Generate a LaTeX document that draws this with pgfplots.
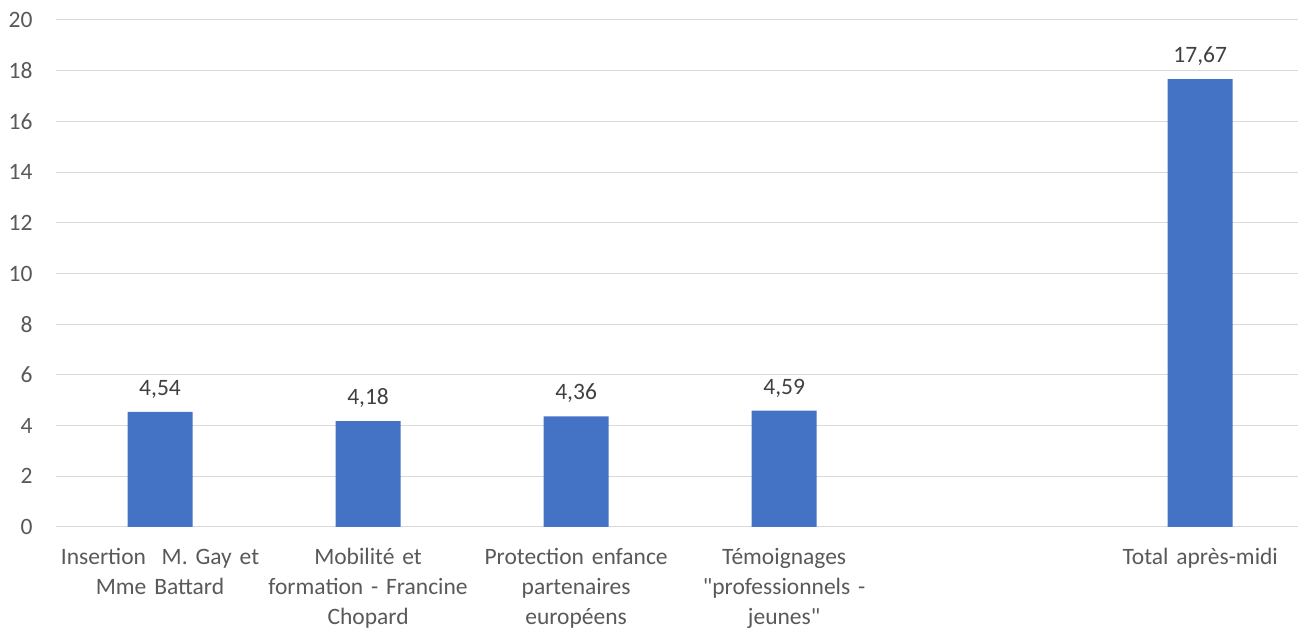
\documentclass[border=0pt]{standalone}
\usepackage{pgfplots}
\pgfplotsset{compat=1.18}
\usepackage{fontspec}
\setmainfont{Carlito}
\newcommand\dq{{\addfontfeatures{Ligatures=TeXOff}\symbol{34}}}
\definecolor{barblue}{HTML}{4472C4}
\definecolor{gridgray}{HTML}{D9D9D9}
\definecolor{txtgray}{HTML}{595959}
\definecolor{lblgray}{HTML}{404040}
\begin{document}
\begin{tikzpicture}
\begin{axis}[
  scale only axis,
  width=1242pt, height=507pt,
  xmin=-0.5, xmax=5.47,
  ymin=0, ymax=20,
  ytick={0,2,...,20},
  xtick={0,1,2,3,4,5},
  xticklabels={{Insertion\ \ M. Gay et\\Mme Battard},{Mobilité et\\formation - Francine\\Chopard},{Protection enfance\\partenaires\\européens},{Témoignages\\\dq professionnels -\\jeunes\dq},{},{Total après-midi}},
  xticklabel style={align=center, text width=230pt, font=\fontsize{23.5}{30}\selectfont, text=txtgray, anchor=north, yshift=-18pt},
  yticklabel style={font=\fontsize{23.5}{28}\selectfont, text=txtgray, anchor=east, xshift=-20pt},
  /pgf/number format/assume math mode=true,
  axis x line*=bottom,
  axis y line*=left,
  y axis line style={draw=none},
  x axis line style={draw=gridgray, line width=1pt, -},
  major tick length=0pt,
  ymajorgrids,
  grid style={draw=gridgray, line width=1pt},
  ybar, bar width=65pt,
  nodes near coords,
  nodes near coords style={font=\fontsize{23.5}{28}\selectfont, text=lblgray, /pgf/number format/fixed, /pgf/number format/fixed zerofill, /pgf/number format/precision=2, /pgf/number format/use comma, yshift=10pt},
  clip=false,
]
\addplot[fill=barblue, draw=none] coordinates {(0,4.54) (1,4.18) (2,4.36) (3,4.59) (5,17.67)};
\end{axis}
\pgfresetboundingbox
\path ([shift={(-56pt,-103pt)}]current axis.south west) rectangle ([shift={(0pt,20pt)}]current axis.north east);
\end{tikzpicture}
\end{document}
